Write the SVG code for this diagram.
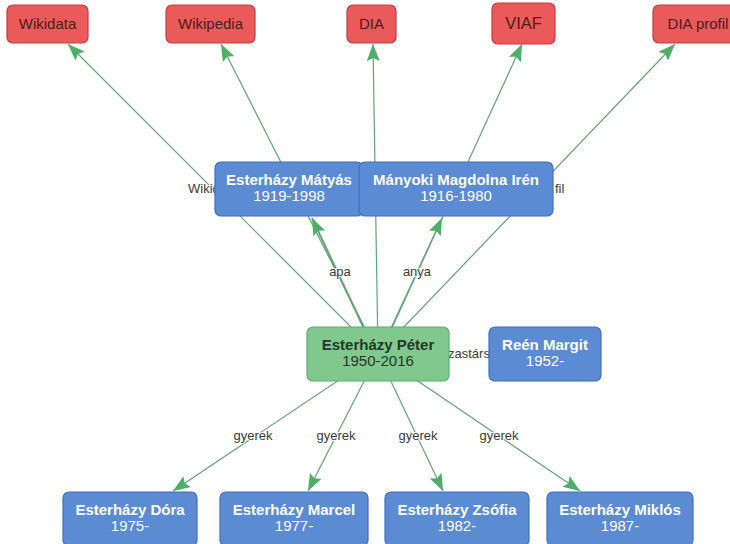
<svg xmlns="http://www.w3.org/2000/svg" width="730" height="544" viewBox="0 0 730 544">
<defs>
<marker id="arr" markerUnits="userSpaceOnUse" markerWidth="18" markerHeight="14" refX="17" refY="6.5" orient="auto">
<path d="M0,0 L17,6.5 L0,13 L3,6.5 z" fill="#4dae66"/>
</marker>
<style>
.e{stroke:#64a277;stroke-width:1.2;fill:none;marker-end:url(#arr)}
.lbl{font-family:"Liberation Sans",Arial,sans-serif;font-size:13px;fill:#3a3a3a;stroke:#fff;stroke-width:2;paint-order:stroke;text-anchor:middle}
.red rect{fill:#eb5a5a;stroke:#c63a3e;stroke-width:1.2}
.red text{font-family:"Liberation Sans",Arial,sans-serif;font-size:15px;fill:#4d1a1a;text-anchor:middle}
.blue rect{fill:#5b8bd3;stroke:#3f6fbd;stroke-width:1.2}
.blue text{font-family:"Liberation Sans",Arial,sans-serif;font-size:15px;fill:#fff;text-anchor:middle}
.green rect{fill:#80c88e;stroke:#5cae6c;stroke-width:1.2}
.green text{font-family:"Liberation Sans",Arial,sans-serif;font-size:15px;fill:#1f3a24;text-anchor:middle}
.b{font-weight:bold}
</style>
</defs>
<rect width="730" height="544" fill="#fff"/>
<g id="connectors">
<line class="e" x1="378" y1="354" x2="68" y2="44"/>
<line class="e" x1="378" y1="354" x2="221" y2="44"/>
<line class="e" x1="378" y1="354" x2="373" y2="44"/>
<line class="e" x1="380" y1="354" x2="522" y2="44"/>
<line class="e" x1="378" y1="354" x2="675" y2="44"/>
<line class="e" x1="376" y1="354" x2="312" y2="218" style="stroke-width:2"/>
<line class="e" x1="379" y1="354" x2="442" y2="218"/>
<line class="e" x1="378" y1="354" x2="173" y2="491"/>
<line class="e" x1="378" y1="354" x2="308" y2="491"/>
<line class="e" x1="378" y1="354" x2="443" y2="491"/>
<line class="e" x1="378" y1="354" x2="580" y2="491"/>
<text class="lbl" x="188" y="193" style="text-anchor:start">Wikid</text>
<text class="lbl" x="555" y="193" style="text-anchor:start">fil</text>
<text class="lbl" x="448" y="358" style="text-anchor:start">zastárs</text>
<text class="lbl" x="340" y="276">apa</text>
<text class="lbl" x="417" y="276">anya</text>
<text class="lbl" x="253" y="440">gyerek</text>
<text class="lbl" x="336" y="440">gyerek</text>
<text class="lbl" x="418" y="440">gyerek</text>
<text class="lbl" x="499" y="440">gyerek</text>
</g>
<g id="wikidata" class="red"><rect x="7" y="5" width="81" height="38" rx="6"/><text x="47.5" y="29">Wikidata</text></g>
<g id="wikipedia" class="red"><rect x="166" y="5" width="89" height="38" rx="6"/><text x="210.5" y="29">Wikipedia</text></g>
<g id="dia" class="red"><rect x="347" y="5" width="49" height="38" rx="6"/><text x="371.5" y="29">DIA</text></g>
<g id="viaf" class="red"><rect x="492" y="3" width="63" height="41" rx="6"/><text x="523.5" y="29" style="font-size:16.5px">VIAF</text></g>
<g id="diaprofil" class="red"><rect x="653" y="5" width="90" height="38" rx="6"/><text x="698" y="29">DIA profil</text></g>
<g id="matyas" class="blue"><rect x="215" y="162" width="148" height="54" rx="6"/><text class="b" x="289" y="185">Esterházy Mátyás</text><text x="289" y="201">1919-1998</text></g>
<g id="manyoki" class="blue"><rect x="359" y="162" width="194" height="54" rx="6"/><text class="b" x="456" y="185">Mányoki Magdolna Irén</text><text x="456" y="201">1916-1980</text></g>
<g id="peter" class="green"><rect x="307" y="327" width="142" height="54" rx="6"/><text class="b" x="378" y="350">Esterházy Péter</text><text x="378" y="366">1950-2016</text></g>
<g id="reen" class="blue"><rect x="489" y="327" width="112" height="54" rx="6"/><text class="b" x="545" y="350">Reén Margit</text><text x="545" y="366">1952-</text></g>
<g id="dora" class="blue"><rect x="63" y="492" width="134" height="54" rx="6"/><text class="b" x="130" y="515">Esterházy Dóra</text><text x="130" y="531">1975-</text></g>
<g id="marcel" class="blue"><rect x="220" y="492" width="148" height="54" rx="6"/><text class="b" x="294" y="515">Esterházy Marcel</text><text x="294" y="531">1977-</text></g>
<g id="zsofia" class="blue"><rect x="385" y="492" width="144" height="54" rx="6"/><text class="b" x="457" y="515">Esterházy Zsófia</text><text x="457" y="531">1982-</text></g>
<g id="miklos" class="blue"><rect x="547" y="492" width="146" height="54" rx="6"/><text class="b" x="620" y="515">Esterházy Miklós</text><text x="620" y="531">1987-</text></g>
</svg>
